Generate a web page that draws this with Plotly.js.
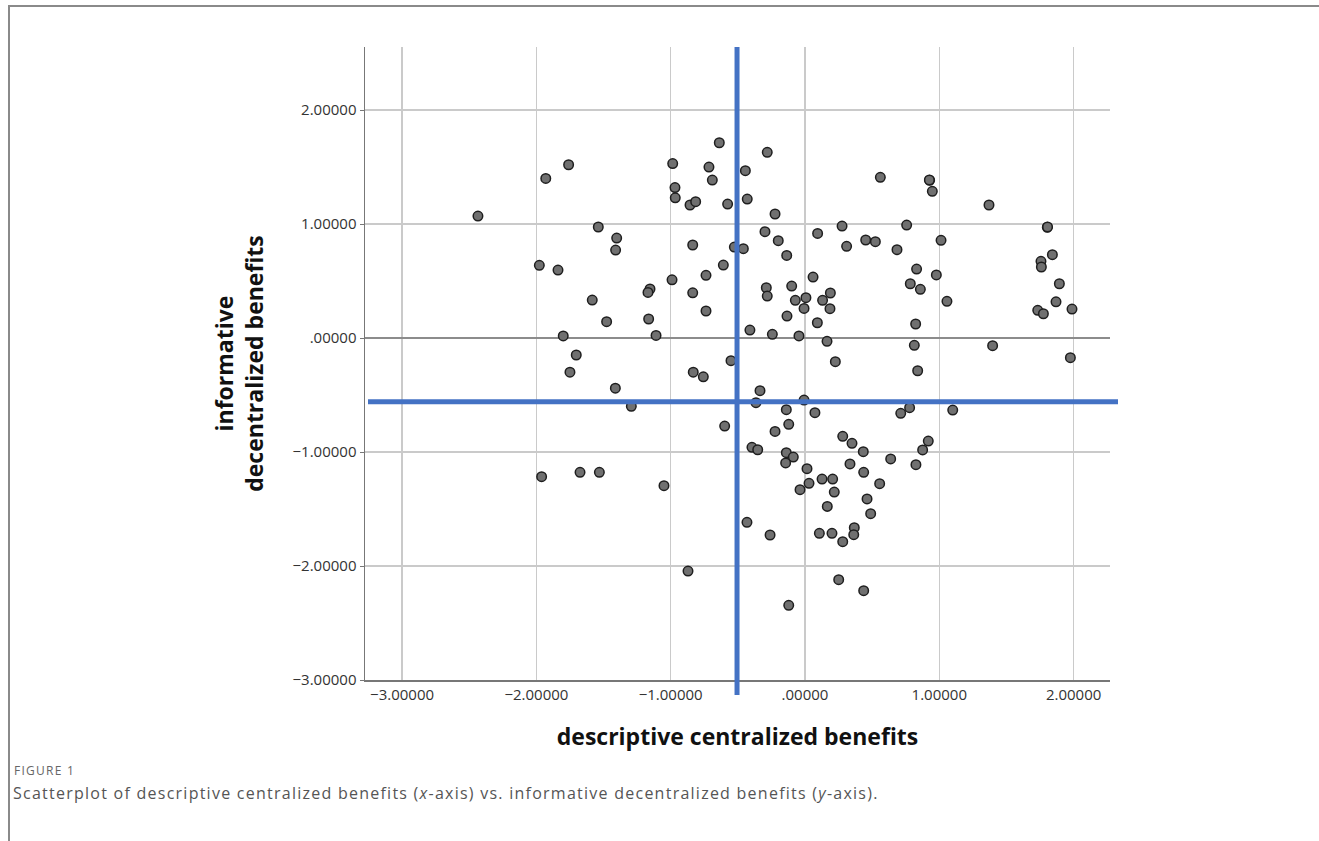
<!DOCTYPE html>
<html>
<head>
<meta charset="utf-8">
<script src="https://cdn.plot.ly/plotly-3.0.1.min.js"></script>
<style>
  html, body { margin: 0; padding: 0; background: #fff; }
  #wrap { position: relative; width: 1319px; height: 841px; overflow: hidden; }
  #chart { position: absolute; left: 0; top: 0; width: 1319px; height: 841px; }
  #frame { position: absolute; left: 8px; top: 5px; width: 1311px; height: 836px;
           border-top: 2px solid #8a8a8a; border-left: 2px solid #8a8a8a; pointer-events: none; }
  #chart .annotation-text { letter-spacing: 1.25px; }
</style>
</head>
<body>
<div id="wrap">
  <div id="chart"></div>
  <div id="frame"></div>
</div>
<script>
// descriptive centralized benefits (x-axis)
const descriptiveCentralized = [
  -2.435, -1.93, -1.76, -0.985, -0.968, -0.966, -1.539, -1.402, -1.41, -1.978,
  -1.839, -0.99, -1.154, -1.169, -1.584, -1.477, -1.164, -1.80, -1.109, -1.703,
  -1.75, -1.412, -0.638, -0.281, -0.715, -0.444, -0.69, 0.561, -0.856, -0.814,
  -0.576, -0.43, -0.223, -0.298, 0.094, 0.276, -0.199, 0.31, 0.452, 0.524,
  0.685, -0.836, -0.526, -0.459, -0.136, -0.608, -0.737, 0.06, -0.836, -0.288,
  -0.281, -0.099, 0.189, -0.072, 0.007, 0.131, -0.007, 0.186, -0.737, -0.134,
  0.092, -0.41, -0.243, -0.045, 0.164, 0.226, -0.551, -0.832, -0.757, -0.335,
  0.928, 0.948, 1.37, 0.757, 1.804, 1.806, 1.013, 0.831, 0.978, 0.784,
  0.859, 1.057, 1.757, 1.76, 1.842, 1.894, 1.869, 1.733, 1.775, 1.988,
  0.824, 0.814, 1.397, 1.976, 0.839, -1.293, -0.365, -0.598, -0.395, -0.352,
  -1.961, -1.675, -1.531, -1.05, -0.432, -0.26, -0.871, -0.007, -0.139, 0.074,
  -0.121, -0.223, 0.713, 0.779, -0.139, -0.087, -0.144, 0.281, 0.35, 0.434,
  0.638, 0.826, 0.876, 0.918, 0.015, 0.335, 0.437, 0.127, 0.206, 0.03,
  -0.037, 0.218, 0.556, 0.166, 0.462, 0.489, 0.107, 0.201, 0.281, 0.367,
  0.363, 0.251, 0.437, -0.121, 1.10, 0.926
];
// informative decentralized benefits (y-axis)
const informativeDecentralized = [
  1.07, 1.40, 1.52, 1.53, 1.32, 1.23, 0.974, 0.877, 0.772, 0.638,
  0.596, 0.511, 0.43, 0.40, 0.333, 0.143, 0.167, 0.018, 0.023, -0.149,
  -0.30, -0.44, 1.713, 1.629, 1.50, 1.468, 1.386, 1.41, 1.167, 1.196,
  1.175, 1.219, 1.088, 0.933, 0.918, 0.982, 0.854, 0.804, 0.86, 0.845,
  0.775, 0.816, 0.798, 0.784, 0.725, 0.64, 0.55, 0.535, 0.397, 0.441,
  0.368, 0.456, 0.395, 0.331, 0.354, 0.331, 0.26, 0.257, 0.237, 0.193,
  0.134, 0.07, 0.032, 0.018, -0.029, -0.208, -0.199, -0.30, -0.34, -0.462,
  1.383, 1.287, 1.167, 0.991, 0.971, 0.975, 0.857, 0.605, 0.553, 0.476,
  0.427, 0.322, 0.673, 0.623, 0.731, 0.476, 0.318, 0.243, 0.213, 0.254,
  0.123, -0.064, -0.067, -0.172, -0.287, -0.599, -0.567, -0.772, -0.959, -0.98,
  -1.216, -1.178, -1.178, -1.295, -1.617, -1.728, -2.044, -0.544, -0.629, -0.655,
  -0.757, -0.819, -0.661, -0.611, -1.006, -1.044, -1.096, -0.862, -0.924, -0.997,
  -1.061, -1.111, -0.982, -0.904, -1.146, -1.105, -1.178, -1.237, -1.237, -1.275,
  -1.33, -1.351, -1.278, -1.477, -1.412, -1.541, -1.713, -1.713, -1.787, -1.664,
  -1.725, -2.12, -2.216, -2.345, -0.632, 1.387
];
// reference lines (means)
const meanDescriptive = -0.506;
const meanInformative = -0.56;

const xTickVals = [-3, -2, -1, 0, 1, 2];
const xTickText = ["\u22123.00000", "\u22122.00000", "\u22121.00000", ".00000", "1.00000", "2.00000"];
const yTickVals = [-3, -2, -1, 0, 1, 2];
const yTickText = ["\u22123.00000", "\u22122.00000", "\u22121.00000", ".00000", "1.00000", "2.00000"];

const xTitle = "descriptive centralized benefits";
const yTitle = "informative<br>decentralized benefits";
const figLabel = "FIGURE 1";
const captionText = "Scatterplot of descriptive centralized benefits (<i>x</i>-axis) vs. informative decentralized benefits (<i>y</i>-axis).";

const M = { l: 365, r: 209, t: 47, b: 161 };
const W = 1319, H = 841;
const pw = W - M.l - M.r, ph = H - M.t - M.b;
const pxX = px => (px - M.l) / pw;
const pxY = py => (H - M.b - py) / ph;

const trace = {
  type: "scatter",
  mode: "markers",
  x: descriptiveCentralized,
  y: informativeDecentralized,
  marker: { size: 9.5, color: "#707070", line: { color: "#1e1e1e", width: 1.5 } },
  hoverinfo: "x+y",
  cliponaxis: false
};

const tickFont = { family: "Open Sans, sans-serif", size: 15, color: "#333" };
const titleFont = { family: "Open Sans, sans-serif", size: 23, color: "#111", weight: "bold" };

const layout = {
  width: W, height: H,
  margin: M,
  paper_bgcolor: "#fff",
  plot_bgcolor: "#fff",
  showlegend: false,
  xaxis: {
    range: [-3.276, 2.271],
    tickvals: xTickVals, ticktext: xTickText,
    tickfont: tickFont,
    showgrid: true, gridcolor: "#cacaca", gridwidth: 1.5,
    zeroline: false,
    showline: true, linecolor: "#777", linewidth: 1.5,
    ticks: "", ticklen: 0,
    title: { text: xTitle, font: titleFont, standoff: 26 },
    fixedrange: true
  },
  yaxis: {
    range: [-3, 2.553],
    tickvals: yTickVals, ticktext: yTickText,
    tickfont: tickFont,
    showgrid: true, gridcolor: "#cacaca", gridwidth: 1.5,
    zeroline: true, zerolinecolor: "#8c8c8c", zerolinewidth: 1.5,
    showline: true, linecolor: "#777", linewidth: 1.5,
    ticks: "outside", ticklen: 4, tickcolor: "#777",
    title: { text: yTitle, font: titleFont, standoff: 22 },
    fixedrange: true
  },
  shapes: [
    { type: "line", xref: "x", yref: "paper", x0: meanDescriptive, x1: meanDescriptive,
      y0: pxY(695), y1: 1, line: { color: "#4472C4", width: 5 } },
    { type: "line", xref: "paper", yref: "y", x0: pxX(368), x1: pxX(1118),
      y0: meanInformative, y1: meanInformative, line: { color: "#4472C4", width: 5 } }
  ],
  annotations: [
    { xref: "paper", yref: "paper", x: pxX(12), y: pxY(770), xanchor: "left", yanchor: "middle", align: "left",
      text: figLabel, showarrow: false, font: { family: "Open Sans, sans-serif", size: 12, color: "#666" } },
    { xref: "paper", yref: "paper", x: pxX(11), y: pxY(793), xanchor: "left", yanchor: "middle", align: "left",
      text: captionText, showarrow: false, font: { family: "Open Sans, sans-serif", size: 16, color: "#555" } }
  ]
};

Plotly.newPlot("chart", [trace], layout, { displayModeBar: false, staticPlot: true });
</script>
</body>
</html>
